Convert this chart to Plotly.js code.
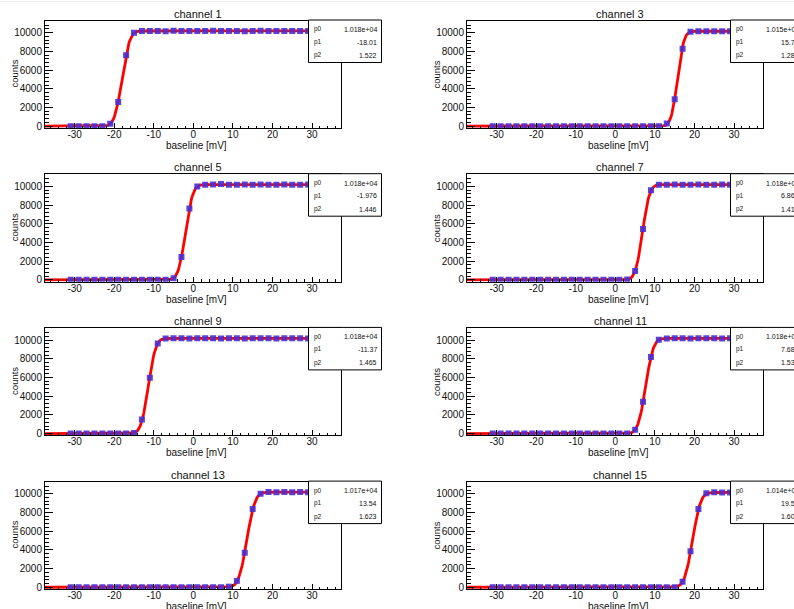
<!DOCTYPE html>
<html>
<head>
<meta charset="utf-8">
<script src="https://cdn.plot.ly/plotly-3.0.1.min.js"></script>
<style>
  html, body { margin: 0; padding: 0; overflow: hidden; background: #fff; }
  #chart { width: 794px; height: 609px; }
</style>
</head>
<body>
<div id="chart"></div>
<script>
// Threshold scans: counts vs. baseline setting, one panel per channel,
// each with an error-function (Gaussian CDF) fit and its parameter box.

const channels = [1, 3, 5, 7, 9, 11, 13, 15];

// Scan points (mV), odd steps from -31 to 29
const baselineMv = [-31, -29, -27, -25, -23, -21, -19, -17, -15, -13, -11, -9, -7, -5, -3, -1,
                    1, 3, 5, 7, 9, 11, 13, 15, 17, 19, 21, 23, 25, 27, 29];

const countsCh1  = [0, 0, 0, 0, 0, 250, 2590, 7580, 10000, 10170, 10190, 10180, 10160, 10200, 10180, 10170,
                    10190, 10180, 10210, 10170, 10180, 10190, 10160, 10180, 10200, 10170, 10190, 10180, 10170, 10190, 10180];
const countsCh3  = [0, 0, 0, 0, 0, 0, 0, 0, 0, 0, 0, 0, 0, 0, 0, 0,
                    0, 0, 0, 0, 0, 0, 280, 2880, 8290, 10100, 10150, 10160, 10140, 10150, 10160];
const countsCh5  = [0, 0, 0, 0, 0, 0, 0, 0, 0, 0, 0, 0, 0, 180, 2430, 7640,
                    9980, 10170, 10190, 10260, 10180, 10170, 10190, 10180, 10200, 10170, 10180, 10190, 10170, 10180, 10190];
const countsCh7  = [0, 0, 0, 0, 0, 0, 0, 0, 0, 0, 0, 0, 0, 0, 0, 0,
                    0, 30, 950, 5430, 9570, 10160, 10180, 10190, 10170, 10180, 10200, 10180, 10170, 10190, 10180];
const countsCh9  = [0, 0, 0, 0, 0, 0, 0, 0, 70, 1490, 5960, 9640, 10170, 10180, 10190, 10170,
                    10180, 10200, 10180, 10170, 10190, 10180, 10170, 10190, 10180, 10200, 10170, 10180, 10190, 10180, 10170];
const countsCh11 = [0, 0, 0, 0, 0, 0, 0, 0, 0, 0, 0, 0, 0, 0, 0, 0,
                    0, 0, 410, 3400, 8190, 10030, 10170, 10190, 10180, 10170, 10190, 10180, 10200, 10170, 10180];
const countsCh13 = [0, 0, 0, 0, 0, 0, 0, 0, 0, 0, 0, 0, 0, 0, 0, 0,
                    0, 0, 0, 0, 60, 680, 3690, 8370, 10000, 10190, 10160, 10180, 10170, 10190, 10170];
const countsCh15 = [0, 0, 0, 0, 0, 0, 0, 0, 0, 0, 0, 0, 0, 0, 0, 0,
                    0, 0, 0, 0, 0, 0, 0, 0, 580, 3860, 8370, 10050, 10150, 10140, 10130];

const countsByChannel = [countsCh1, countsCh3, countsCh5, countsCh7,
                         countsCh9, countsCh11, countsCh13, countsCh15];

// Fit results: p0 = plateau, p1 = 50% point (mV), p2 = width (mV)
const fitP0 = [10180, 10150, 10180, 10180, 10180, 10180, 10170, 10140];
const fitP1 = [-18.01, 15.73, -1.976, 6.862, -11.37, 7.683, 13.54, 19.53];
const fitP2 = [1.522, 1.283, 1.446, 1.412, 1.465, 1.531, 1.623, 1.604];
const p0Text = ['1.018e+04', '1.015e+04', '1.018e+04', '1.018e+04', '1.018e+04', '1.018e+04', '1.017e+04', '1.014e+04'];
const p1Text = ['-18.01', '15.73', '-1.976', '6.862', '-11.37', '7.683', '13.54', '19.53'];
const p2Text = ['1.522', '1.283', '1.446', '1.412', '1.465', '1.531', '1.623', '1.604'];

const xTicks = [-30, -20, -10, 0, 10, 20, 30];
const yTicks = [0, 2000, 4000, 6000, 8000, 10000];

// ---------- layout helpers ----------
const W = 794, H = 609;
const FONT = 'Liberation Sans, Arial, Helvetica, sans-serif';
const px = x => x / W;
const py = y => 1 - y / H;

function erf(z) {
  const s = z < 0 ? -1 : 1;
  const a = Math.abs(z);
  const t = 1 / (1 + 0.3275911 * a);
  const y = 1 - (((((1.061405429 * t - 1.453152027) * t) + 1.421413741) * t - 0.284496736) * t + 0.254829592) * t * Math.exp(-a * a);
  return s * y;
}

const X_RANGE = [-37.5, 37.2];
const Y_RANGE = [-200, 11300];

const data = [];
const layout = {
  width: W, height: H,
  margin: { l: 0, r: 0, t: 0, b: 0 },
  paper_bgcolor: '#fff', plot_bgcolor: '#fff',
  showlegend: false,
  font: { family: FONT, color: '#111' },
  annotations: [],
  shapes: [
    { type: 'line', xref: 'paper', yref: 'paper', x0: 0, x1: 1, y0: py(1.5), y1: py(1.5),
      line: { color: '#ececec', width: 1 } }
  ]
};

channels.forEach((ch, i) => {
  const col = i % 2, row = Math.floor(i / 2);
  const dx = col * 422;
  const dy = row * 153.7;
  const left = 45 + dx, right = 340.5 + dx;
  const top = 20.5 + dy, bottom = 128 + dy;
  const k = i + 1;
  const xa = 'x' + (k === 1 ? '' : k), ya = 'y' + (k === 1 ? '' : k);
  const xKey = 'xaxis' + (k === 1 ? '' : k), yKey = 'yaxis' + (k === 1 ? '' : k);

  // fitted curve evaluated from the fit parameters
  const fx = [], fy = [];
  for (let x = X_RANGE[0]; x <= X_RANGE[1] + 1e-9; x += 0.2) {
    fx.push(x);
    fy.push(fitP0[i] * 0.5 * (1 + erf((x - fitP1[i]) / (Math.SQRT2 * fitP2[i]))));
  }
  data.push({
    type: 'scatter', mode: 'lines', x: fx, y: fy, xaxis: xa, yaxis: ya,
    line: { color: '#ff0000', width: 2.8 }, hoverinfo: 'skip', cliponaxis: true
  });
  data.push({
    type: 'scatter', mode: 'markers', x: baselineMv, y: countsByChannel[i], xaxis: xa, yaxis: ya,
    marker: { symbol: 'square', size: 6, color: '#4b2fcf', opacity: 0.9 },
    cliponaxis: true
  });

  layout[xKey] = {
    domain: [px(left), px(right)], anchor: ya, range: X_RANGE,
    showline: true, linecolor: '#000', linewidth: 1, mirror: true,
    ticks: 'inside', ticklen: 5, tickwidth: 1, tickcolor: '#000',
    tickmode: 'array', tickvals: xTicks, ticktext: xTicks.map(String),
    ticklabelstandoff: -3,
    minor: { ticks: 'inside', ticklen: 2.5, tickcolor: '#000', tickmode: 'linear', tick0: 0, dtick: 2, showgrid: false },
    showgrid: false, zeroline: false,
    tickfont: { family: FONT, size: 10, color: '#111' }
  };
  layout[yKey] = {
    domain: [py(bottom), py(top)], anchor: xa, range: Y_RANGE,
    showline: true, linecolor: '#000', linewidth: 1, mirror: true,
    ticks: 'inside', ticklen: 8, tickwidth: 1, tickcolor: '#000',
    tickmode: 'array', tickvals: yTicks, ticktext: yTicks.map(String),
    minor: { ticks: 'inside', ticklen: 4, tickcolor: '#000', tickmode: 'linear', tick0: 0, dtick: 400, showgrid: false },
    showgrid: false, zeroline: false,
    tickfont: { family: FONT, size: 10, color: '#111' }
  };

  // panel title
  layout.annotations.push({
    xref: 'paper', yref: 'paper', x: px(198 + dx), y: py(13.5 + dy),
    text: 'channel ' + ch, showarrow: false, xanchor: 'center', yanchor: 'middle',
    font: { family: FONT, size: 11, color: '#111' }
  });
  // axis titles
  layout.annotations.push({
    xref: 'paper', yref: 'paper', x: px(196 + dx), y: py(145.5 + dy),
    text: 'baseline [mV]', showarrow: false, xanchor: 'center', yanchor: 'middle',
    font: { family: FONT, size: 10, color: '#111' }
  });
  layout.annotations.push({
    xref: 'paper', yref: 'paper', x: px(14.5 + dx), y: py(74 + dy),
    text: 'counts', showarrow: false, textangle: -90, xanchor: 'center', yanchor: 'middle',
    font: { family: FONT, size: 9.5, color: '#111' }
  });

  // fit parameter box
  const bx0 = 308.5 + dx, bx1 = 381.5 + dx, by0 = 20 + dy, by1 = 62.5 + dy;
  layout.shapes.push({
    type: 'rect', xref: 'paper', yref: 'paper', layer: 'above',
    x0: px(bx0), x1: px(bx1), y0: py(by1), y1: py(by0),
    fillcolor: '#fff', line: { color: '#000', width: 1 }
  });
  const rowsY = [29.5, 42, 55.5];
  const names = ['p0', 'p1', 'p2'];
  const vals = [p0Text[i], p1Text[i], p2Text[i]];
  rowsY.forEach((ry, j) => {
    layout.annotations.push({
      xref: 'paper', yref: 'paper', x: px(bx0 + 3), y: py(ry + dy),
      text: names[j], showarrow: false, xanchor: 'left', yanchor: 'middle',
      font: { family: FONT, size: 6.5, color: '#111' }
    });
    layout.annotations.push({
      xref: 'paper', yref: 'paper', x: px(bx1 - 3), y: py(ry + dy),
      text: vals[j], showarrow: false, xanchor: 'right', yanchor: 'middle',
      font: { family: FONT, size: 7, color: '#111' }
    });
  });
});

Plotly.newPlot('chart', data, layout, { staticPlot: true, displayModeBar: false });
</script>
</body>
</html>
